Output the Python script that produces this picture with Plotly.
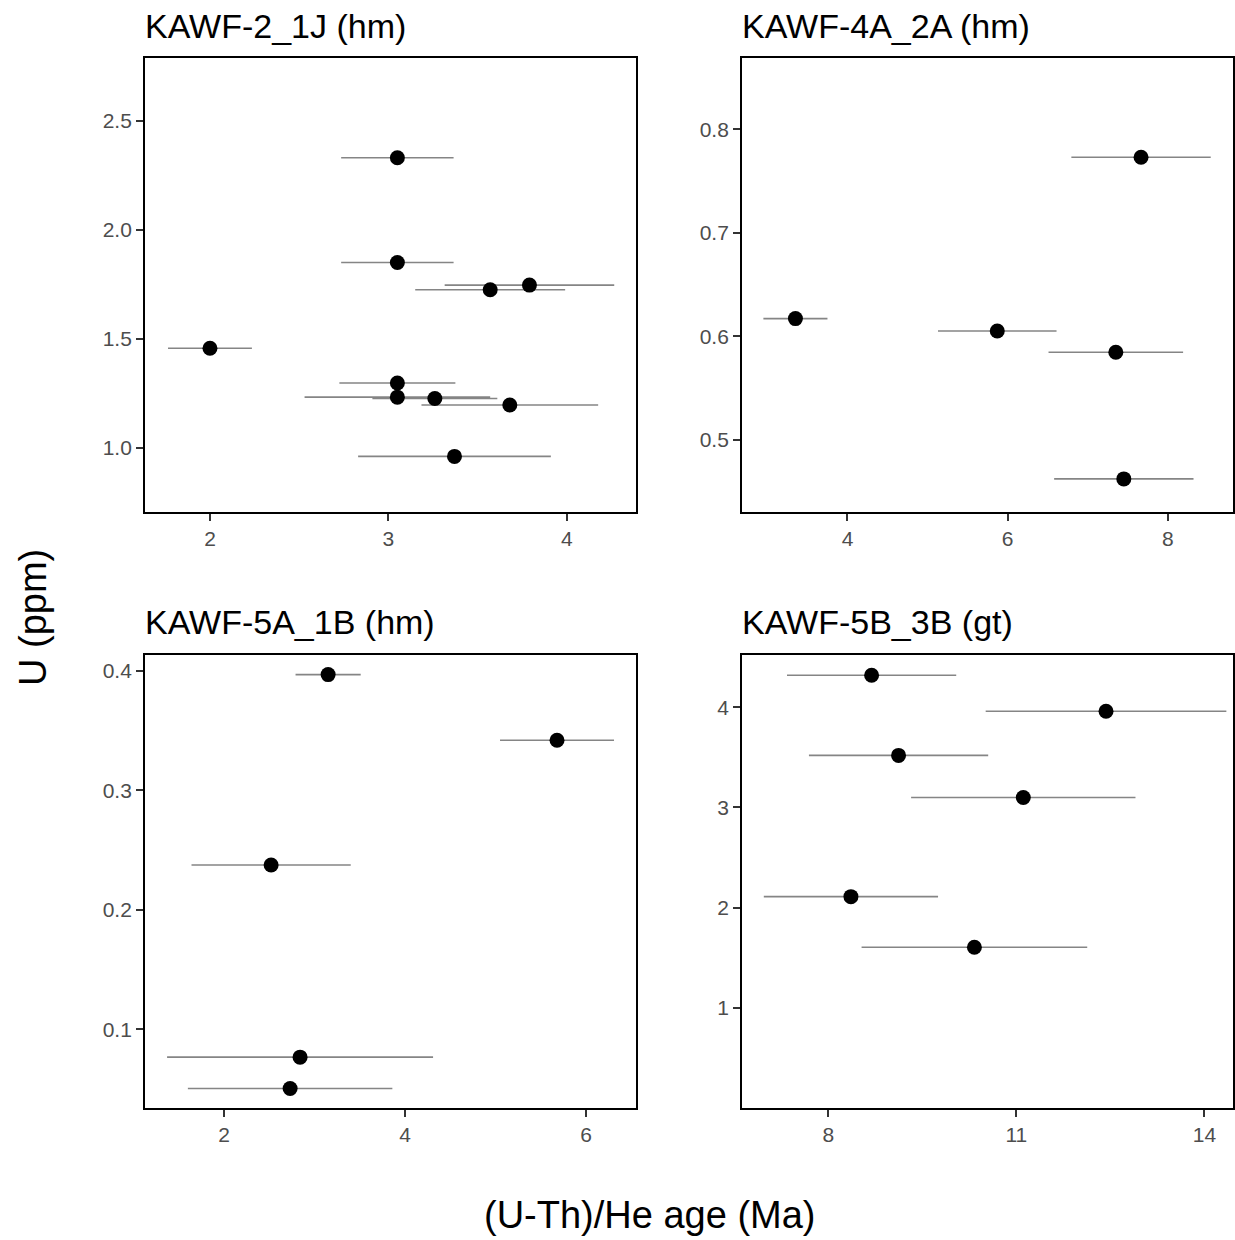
import plotly.graph_objects as go

# ---- data ----
titles = ["KAWF-2_1J (hm)", "KAWF-4A_2A (hm)", "KAWF-5A_1B (hm)", "KAWF-5B_3B (gt)"]

p1_age = [3.05, 3.05, 3.57, 3.79, 2.00, 3.05, 3.05, 3.26, 3.68, 3.37]
p1_u = [2.33, 1.85, 1.725, 1.746, 1.456, 1.297, 1.232, 1.226, 1.196, 0.960]
p1_err = [0.315, 0.315, 0.42, 0.475, 0.235, 0.325, 0.52, 0.35, 0.495, 0.54]

p2_age = [3.35, 5.87, 7.665, 7.35, 7.45]
p2_u = [0.617, 0.605, 0.773, 0.5845, 0.462]
p2_err = [0.40, 0.74, 0.87, 0.84, 0.87]

p3_age = [3.15, 5.68, 2.52, 2.84, 2.73]
p3_u = [0.397, 0.342, 0.2375, 0.0766, 0.0503]
p3_err = [0.36, 0.63, 0.88, 1.47, 1.13]

p4_age = [8.69, 12.43, 9.12, 11.11, 8.36, 10.33]
p4_u = [4.32, 3.96, 3.52, 3.10, 2.11, 1.605]
p4_err = [1.35, 1.92, 1.43, 1.79, 1.39, 1.80]

x_ticks = [[2, 3, 4], [4, 6, 8], [2, 4, 6], [8, 11, 14]]
y_ticks = [[1.0, 1.5, 2.0, 2.5], [0.5, 0.6, 0.7, 0.8], [0.1, 0.2, 0.3, 0.4], [1, 2, 3, 4]]
y_fmt = [".1f", ".1f", ".1f", "d"]

x_title = "(U-Th)/He age (Ma)"
y_title = "U (ppm)"

# ---- layout constants ----
W, H = 1235, 1240
FONT = "Liberation Sans, Arial, Helvetica, sans-serif"
x_ranges = [[1.636, 4.387], [2.683, 8.813], [1.126, 6.553], [6.622, 14.456]]
y_ranges = [[0.705, 2.788], [0.430, 0.869], [0.034, 0.4134], [0.0, 4.522]]
box_px = [  # left, right, top, bottom in pixels
    (145, 636, 58, 512),
    (742, 1233, 58, 512),
    (145, 636, 655, 1108),
    (742, 1233, 655, 1108),
]
title_y_px = [26, 26, 622, 622]

panels = [(p1_age, p1_u, p1_err), (p2_age, p2_u, p2_err),
          (p3_age, p3_u, p3_err), (p4_age, p4_u, p4_err)]

fig = go.Figure()
layout = dict(
    width=W, height=H,
    margin=dict(l=0, r=0, t=0, b=0),
    paper_bgcolor="white", plot_bgcolor="white",
    showlegend=False,
    font=dict(family=FONT, color="black"),
)

annotations = []
for i, (ages, us, errs) in enumerate(panels):
    n = i + 1
    xa = "x" if n == 1 else f"x{n}"
    ya = "y" if n == 1 else f"y{n}"
    fig.add_trace(go.Scatter(
        x=ages, y=us, mode="markers", xaxis=xa, yaxis=ya,
        marker=dict(color="black", size=15),
        error_x=dict(type="data", array=errs, visible=True,
                     color="#858585", thickness=1.6, width=0),
        hoverinfo="x+y",
    ))
    l, r, t, b = box_px[i]
    xdom = [l / W, r / W]
    ydom = [1 - b / H, 1 - t / H]
    axis_common = dict(
        showline=True, mirror=True, linecolor="black", linewidth=1.8,
        showgrid=False, zeroline=False,
        ticks="outside", ticklen=7, tickwidth=1.6, tickcolor="#333333",
        tickfont=dict(family=FONT, size=21, color="#4d4d4d"),
    )
    layout["xaxis" if n == 1 else f"xaxis{n}"] = dict(
        axis_common, domain=xdom, range=x_ranges[i], anchor=ya,
        tickmode="array", tickvals=x_ticks[i],
        ticktext=[str(v) for v in x_ticks[i]],
    )
    layout["yaxis" if n == 1 else f"yaxis{n}"] = dict(
        axis_common, domain=ydom, range=y_ranges[i], anchor=xa,
        tickmode="array", tickvals=y_ticks[i],
        ticktext=[format(v, y_fmt[i]) for v in y_ticks[i]],
    )
    annotations.append(dict(
        text=titles[i], xref="paper", yref="paper",
        x=l / W, y=1 - title_y_px[i] / H, xanchor="left", yanchor="middle",
        xshift=-2,
        showarrow=False, font=dict(family=FONT, size=34, color="black"),
    ))

annotations.append(dict(
    text=x_title, xref="paper", yref="paper", x=650 / W, y=1 - 1215 / H,
    xanchor="center", yanchor="middle", showarrow=False,
    font=dict(family=FONT, size=38, color="black"),
))
annotations.append(dict(
    text=y_title, xref="paper", yref="paper", x=33 / W, y=1 - 618 / H,
    xanchor="center", yanchor="middle", showarrow=False, textangle=-90,
    font=dict(family=FONT, size=38, color="black"),
))
layout["annotations"] = annotations

fig.update_layout(**layout)
fig.write_html(
    "out.html",
    config={"displayModeBar": False},
    post_script="document.body.style.margin='0';document.body.style.overflow='hidden';",
)
